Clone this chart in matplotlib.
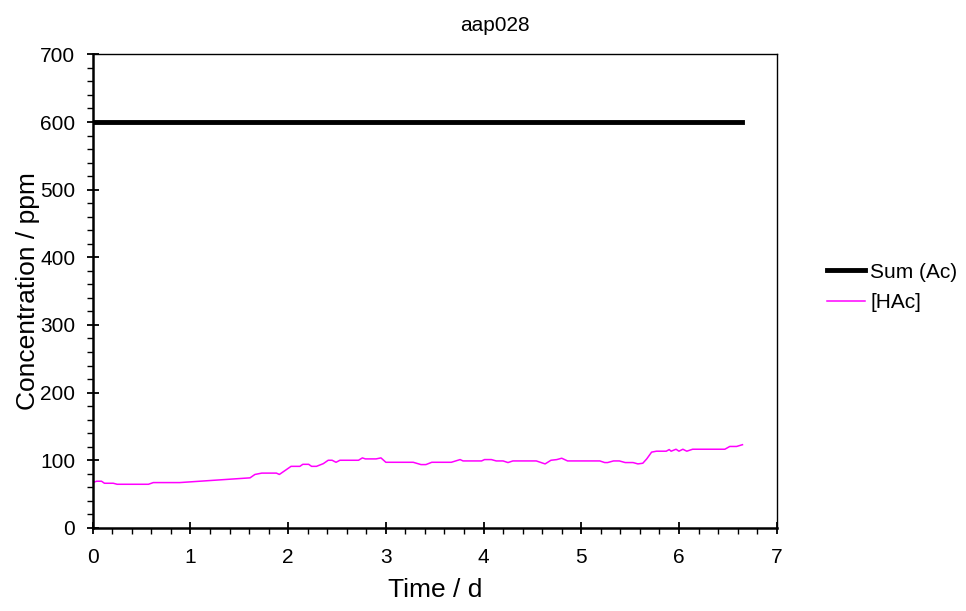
import matplotlib.pyplot as plt
from matplotlib.ticker import MultipleLocator

plt.rcParams['font.family'] = ['Liberation Sans', 'DejaVu Sans']

# measured series
t_sum = [0.0, 6.65]
sum_ac = [600, 600]

t_hac = [0.0, 0.04, 0.09, 0.12, 0.21, 0.25, 0.57, 0.62, 0.89, 1.61, 1.66, 1.73,
         1.88, 1.91, 2.03, 2.12, 2.15, 2.21, 2.24, 2.29, 2.36, 2.41, 2.45, 2.49,
         2.53, 2.72, 2.76, 2.79, 2.90, 2.95, 3.0, 3.28, 3.36, 3.41, 3.47, 3.67,
         3.76, 3.79, 3.98, 4.01, 4.08, 4.13, 4.20, 4.25, 4.30, 4.54, 4.63, 4.69,
         4.75, 4.80, 4.86, 5.19, 5.24, 5.27, 5.33, 5.39, 5.45, 5.53, 5.58, 5.63,
         5.67, 5.72, 5.77, 5.87, 5.90, 5.92, 5.97, 6.0, 6.04, 6.08, 6.14, 6.47,
         6.52, 6.59, 6.65]
hac = [67, 69, 69, 66, 66, 64.5, 64.5, 67, 67, 74, 79, 81,
       81, 79, 91, 91, 94, 94, 91, 91, 95, 100, 100, 97,
       100, 100, 103.5, 102, 102, 103.5, 97, 97, 93.6, 93.6, 97, 97,
       101, 99, 99, 101, 101, 99, 99, 96.6, 99, 99, 94.6, 100,
       101, 103, 99, 99, 96.6, 96.6, 99, 99, 96.6, 96.6, 94.6, 95.6,
       102, 112, 113.4, 113.4, 115.8, 113.4, 116.3, 113.4, 116.3, 113.4, 116.3, 116.3,
       120.4, 120.4, 123]

fig = plt.figure(figsize=(9.66, 6.11), dpi=100)
ax = fig.add_axes([0.096, 0.136, 0.708, 0.775])

ax.plot(t_sum, sum_ac, color='black', lw=3.5, label='Sum (Ac)')
ax.plot(t_hac, hac, color='#ff00ff', lw=1.1, label='[HAc]')

ax.set_xlim(0, 7)
ax.set_ylim(0, 700)
ax.xaxis.set_major_locator(MultipleLocator(1))
ax.xaxis.set_minor_locator(MultipleLocator(0.2))
ax.yaxis.set_major_locator(MultipleLocator(100))
ax.yaxis.set_minor_locator(MultipleLocator(20))
ax.tick_params(which='major', direction='inout', length=9, width=1.3, labelsize=15)
ax.tick_params(axis='x', which='major', pad=10)
ax.tick_params(axis='y', which='major', pad=8)
ax.tick_params(which='minor', direction='out', length=4, width=1.0)
ax.tick_params(top=False, right=False)
for s in ax.spines.values():
    s.set_linewidth(1.0)
ax.spines['left'].set_linewidth(1.8)
ax.spines['bottom'].set_linewidth(1.8)

ax.set_xlabel('Time / d', fontsize=19, labelpad=8)
ax.set_ylabel('Concentration / ppm', fontsize=19, labelpad=0)
fig.text(0.512, 0.958, 'aap028', fontsize=15, ha='center', va='center')

ax.legend(loc='center left', bbox_to_anchor=(1.073, 0.508), frameon=False,
          fontsize=15, handlelength=1.85, handletextpad=0.25, labelspacing=0.55,
          borderpad=0, borderaxespad=0)

fig.savefig('out.png', dpi=100)
